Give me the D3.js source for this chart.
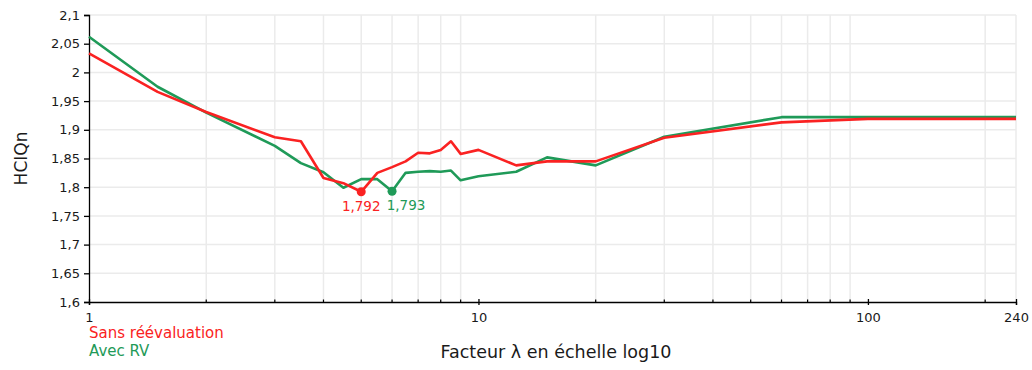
<!DOCTYPE html>
<html lang="fr">
<head>
<meta charset="utf-8">
<script src="https://cdn.jsdelivr.net/npm/d3@7"></script>
<style>
  html, body { margin: 0; padding: 0; background: #fff; }
  svg { display: block; font-family: "DejaVu Sans", Verdana, sans-serif; }
</style>
</head>
<body>
<svg id="chart" width="1032" height="370"></svg>
<script>
// Facteur λ (échelle log) et valeurs HCIQn pour les deux variantes
const lambdaSans = [1, 1.5, 2, 3, 3.5, 4, 4.5, 5, 5.5, 6, 6.5, 7, 7.5, 8, 8.5, 9, 10, 12.5, 15, 20, 30, 60, 100, 240];
const hciqnSans  = [2.033, 1.966, 1.931, 1.887, 1.880, 1.816, 1.807, 1.792, 1.825, 1.835, 1.845, 1.860, 1.859, 1.865, 1.880, 1.858, 1.865, 1.838, 1.845, 1.845, 1.886, 1.913, 1.919, 1.919];

const lambdaRV = [1, 1.5, 2, 3, 3.5, 4, 4.5, 5, 5.5, 6, 6.5, 7, 7.5, 8, 8.5, 9, 10, 12.5, 15, 20, 30, 60, 100, 240];
const hciqnRV  = [2.062, 1.975, 1.930, 1.872, 1.842, 1.826, 1.799, 1.814, 1.814, 1.793, 1.825, 1.827, 1.828, 1.827, 1.829, 1.812, 1.819, 1.827, 1.852, 1.838, 1.888, 1.922, 1.922, 1.922];

const seriesNames = ["Sans réévaluation", "Avec RV"];
const xTickValues = [1, 10, 100, 240];
const yTickValues = [1.6, 1.65, 1.7, 1.75, 1.8, 1.85, 1.9, 1.95, 2, 2.05, 2.1];
const xTitle = "Facteur λ en échelle log10";
const yTitle = "HCIQn";

const RED = "#fa2222";
const GREEN = "#1f9a58";

const svg = d3.select("#chart");
const margin = { left: 89, right: 16, top: 15, bottom: 68 };
const W = 1032, H = 370;

const x = d3.scaleLog().domain([1, 240]).range([margin.left, W - margin.right]);
const y = d3.scaleLinear().domain([1.6, 2.1]).range([H - margin.bottom, margin.top]);

const fmt = d => String(d).replace(".", ",");

// Minor log gridlines (2..9, 20..90, 200) plus the right border
const minor = [];
for (const dec of [1, 10, 100]) {
  for (let k = 2; k <= 9; k++) { const v = k * dec; if (v < 240) minor.push(v); }
}
const gridX = minor.concat([240]);

const grid = svg.append("g").attr("class", "grid");
grid.selectAll("line.gx").data(gridX).join("line")
  .attr("x1", d => x(d)).attr("x2", d => x(d))
  .attr("y1", y(1.6)).attr("y2", y(2.1))
  .attr("stroke", "#ebebeb").attr("stroke-width", 1.5);
grid.selectAll("line.gy").data(yTickValues.slice(1)).join("line")
  .attr("x1", x(1)).attr("x2", x(240))
  .attr("y1", d => y(d)).attr("y2", d => y(d))
  .attr("stroke", "#ebebeb").attr("stroke-width", 1.5);

// Y axis
const yAxis = svg.append("g")
  .attr("transform", `translate(${x(1)},0)`)
  .call(d3.axisLeft(y).tickValues(yTickValues).tickFormat(fmt).tickSize(5).tickPadding(4));
yAxis.select(".domain").attr("stroke", "#000").attr("stroke-width", 1.3);
yAxis.selectAll(".tick line").attr("stroke", "#000").attr("stroke-width", 1.3);
yAxis.selectAll(".tick text").attr("font-size", 13).attr("fill", "#1a1a1a")
  .attr("font-family", "DejaVu Sans, sans-serif");

// X axis
const xAxis = svg.append("g")
  .attr("transform", `translate(0,${y(1.6)})`)
  .call(d3.axisBottom(x).tickValues(xTickValues).tickFormat(d => String(d)).tickSize(3).tickPadding(8));
xAxis.select(".domain").attr("stroke", "#000").attr("stroke-width", 1.3);
xAxis.selectAll(".tick line").attr("stroke", "#000").attr("stroke-width", 1.3).attr("y1", -3);
xAxis.selectAll(".tick text").attr("font-size", 13).attr("fill", "#1a1a1a")
  .attr("font-family", "DejaVu Sans, sans-serif");
xAxis.selectAll("line.minor").data(minor).join("line")
  .attr("class", "minor")
  .attr("x1", d => x(d)).attr("x2", d => x(d))
  .attr("y1", 0).attr("y2", -2.5)
  .attr("stroke", "#000").attr("stroke-width", 1.2);

// Lines
const line = d3.line().x(d => x(d[0])).y(d => y(d[1]));
const sansData = d3.zip(lambdaSans, hciqnSans);
const rvData = d3.zip(lambdaRV, hciqnRV);

svg.append("path").datum(rvData)
  .attr("d", line).attr("fill", "none").attr("stroke", GREEN)
  .attr("stroke-width", 2.6).attr("stroke-linejoin", "round");
svg.append("path").datum(sansData)
  .attr("d", line).attr("fill", "none").attr("stroke", RED)
  .attr("stroke-width", 2.6).attr("stroke-linejoin", "round");

// Minimum of each series, marked and labelled
function markMin(data, color, dx) {
  const m = data.reduce((a, b) => (b[1] < a[1] ? b : a));
  svg.append("circle").attr("cx", x(m[0])).attr("cy", y(m[1])).attr("r", 4.5).attr("fill", color);
  svg.append("text")
    .attr("x", x(m[0]) + dx).attr("y", y(m[1]) + 19)
    .attr("text-anchor", "middle").attr("font-size", 13.5).attr("fill", color)
    .text(fmt(m[1]));
}
markMin(sansData, RED, 0);
markMin(rvData, GREEN, 14);

// Axis titles
svg.append("text")
  .attr("transform", `translate(27,${(y(1.6) + y(2.1)) / 2}) rotate(-90)`)
  .attr("text-anchor", "middle").attr("font-size", 17).attr("fill", "#1a1a1a")
  .text(yTitle);
svg.append("text")
  .attr("x", 556).attr("y", 358)
  .attr("text-anchor", "middle").attr("font-size", 17.5).attr("fill", "#1a1a1a")
  .text(xTitle);

// Legend
const legend = svg.append("g").attr("font-size", 15);
legend.selectAll("text").data(seriesNames).join("text")
  .attr("x", x(1)).attr("y", (d, i) => 338 + i * 18)
  .attr("fill", (d, i) => (i === 0 ? RED : GREEN))
  .text(d => d);
</script>
</body>
</html>
